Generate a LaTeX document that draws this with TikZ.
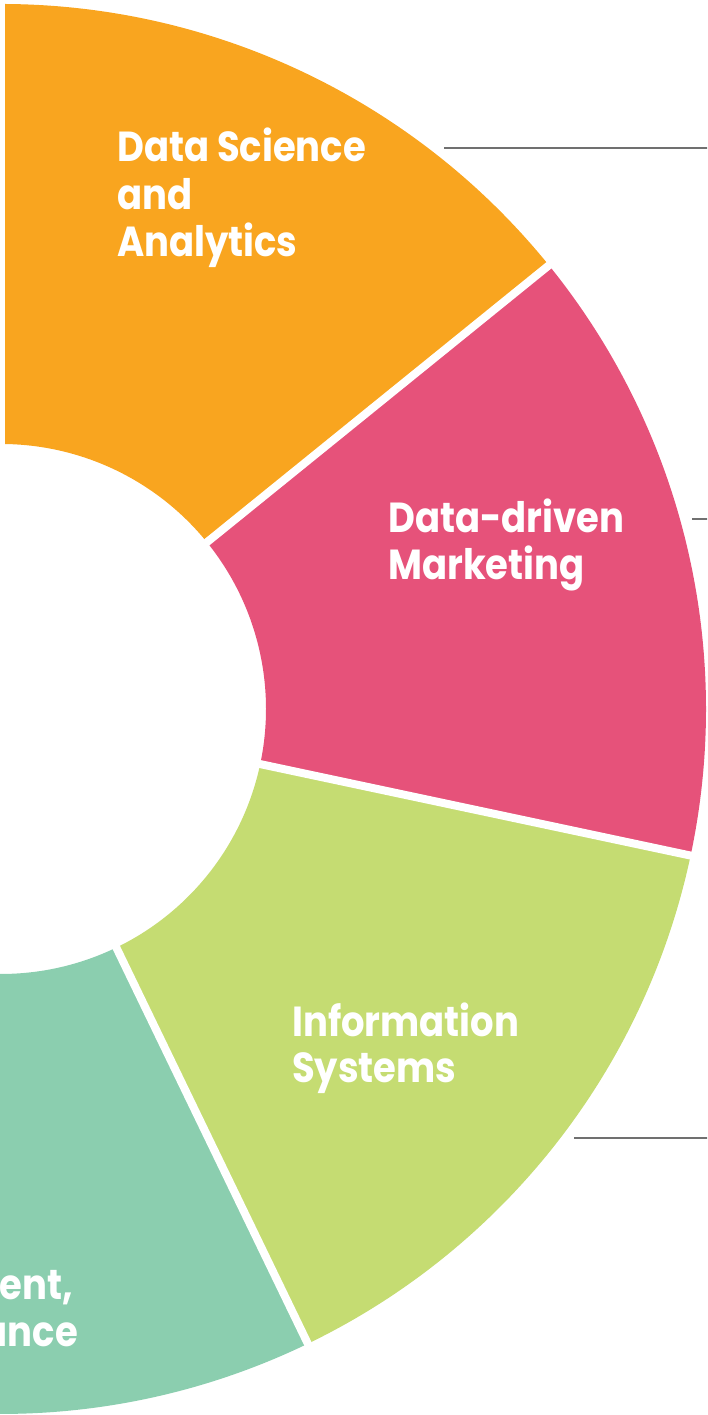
\documentclass[tikz,border=0pt]{standalone}
\usepackage{fontspec}
\setmainfont{Poppins}[BoldFeatures={FakeStretch=0.88}]
\definecolor{segorange}{HTML}{F9A51F}
\definecolor{segpink}{HTML}{E6527A}
\definecolor{seggreen}{HTML}{C5DC72}
\definecolor{segteal}{HTML}{8BCEAF}
\definecolor{leader}{HTML}{707070}
\begin{document}
\begin{tikzpicture}[x=1pt,y=1pt,
  seglabel/.style={text=white, font=\fontsize{42}{47}\selectfont\bfseries, inner sep=0pt, anchor=base west},
  seglabelr/.style={seglabel, anchor=base east},
  gap/.style={white, line width=8pt},
  leaderline/.style={leader, line width=2.5pt}]
\useasboundingbox (0,0) rectangle (707,1415);
\clip (0,0) rectangle (707,1415);
\coordinate (c) at (1,706);
\def\Ro{705}
\def\Ri{265}
% leader lines (behind)
\coordinate (l1s) at (444,1267); \coordinate (l1e) at (710,1267);
\coordinate (l2s) at (692,896);  \coordinate (l2e) at (710,896);
\coordinate (l3s) at (574,277);  \coordinate (l3e) at (710,277);
\draw[leaderline] (l1s) -- (l1e);
\draw[leaderline] (l2s) -- (l2e);
\draw[leaderline] (l3s) -- (l3e);
% segments
\fill[segorange] ([shift={(c)}]39:\Ro) arc[start angle=39,end angle=90,radius=\Ro]
  -- ([shift={(c)}]90:\Ri) arc[start angle=90,end angle=39,radius=\Ri] -- cycle;
\fill[segpink] ([shift={(c)}]-12:\Ro) arc[start angle=-12,end angle=39,radius=\Ro]
  -- ([shift={(c)}]39:\Ri) arc[start angle=39,end angle=-12,radius=\Ri] -- cycle;
\fill[seggreen] ([shift={(c)}]-64.2:\Ro) arc[start angle=-64.2,end angle=-12,radius=\Ro]
  -- ([shift={(c)}]-12:\Ri) arc[start angle=-12,end angle=-64.2,radius=\Ri] -- cycle;
\fill[segteal] ([shift={(c)}]-125:\Ro) arc[start angle=-125,end angle=-64.2,radius=\Ro]
  -- ([shift={(c)}]-64.2:\Ri) arc[start angle=-64.2,end angle=-125,radius=\Ri] -- cycle;
% white gaps
\coordinate (g1) at ([shift={(c)}]90:760);
\coordinate (g2) at ([shift={(c)}]39:760);
\coordinate (g3) at ([shift={(c)}]-12:760);
\coordinate (g4) at ([shift={(c)}]-64.2:760);
\draw[gap] (c) -- (g1);
\draw[gap] (c) -- (g2);
\draw[gap] (c) -- (g3);
\draw[gap] (c) -- (g4);
% labels
\node[seglabel] (dsa1) at (117,1253) {Data Science};
\node[seglabel] (dsa2) at (117,1205) {and};
\node[seglabel] (dsa3) at (117,1158) {Analytics};
\node[seglabel] (ddm1) at (388,882) {Data-driven};
\node[seglabel] (ddm2) at (388,835) {Marketing};
\node[seglabel] (is1) at (292,378) {Information};
\node[seglabel] (is2) at (292,332) {Systems};
\node[seglabelr] (mg1) at (73,115) {ment,};
\node[seglabelr] (mg2) at (78,68) {ance};
\end{tikzpicture}
\end{document}
